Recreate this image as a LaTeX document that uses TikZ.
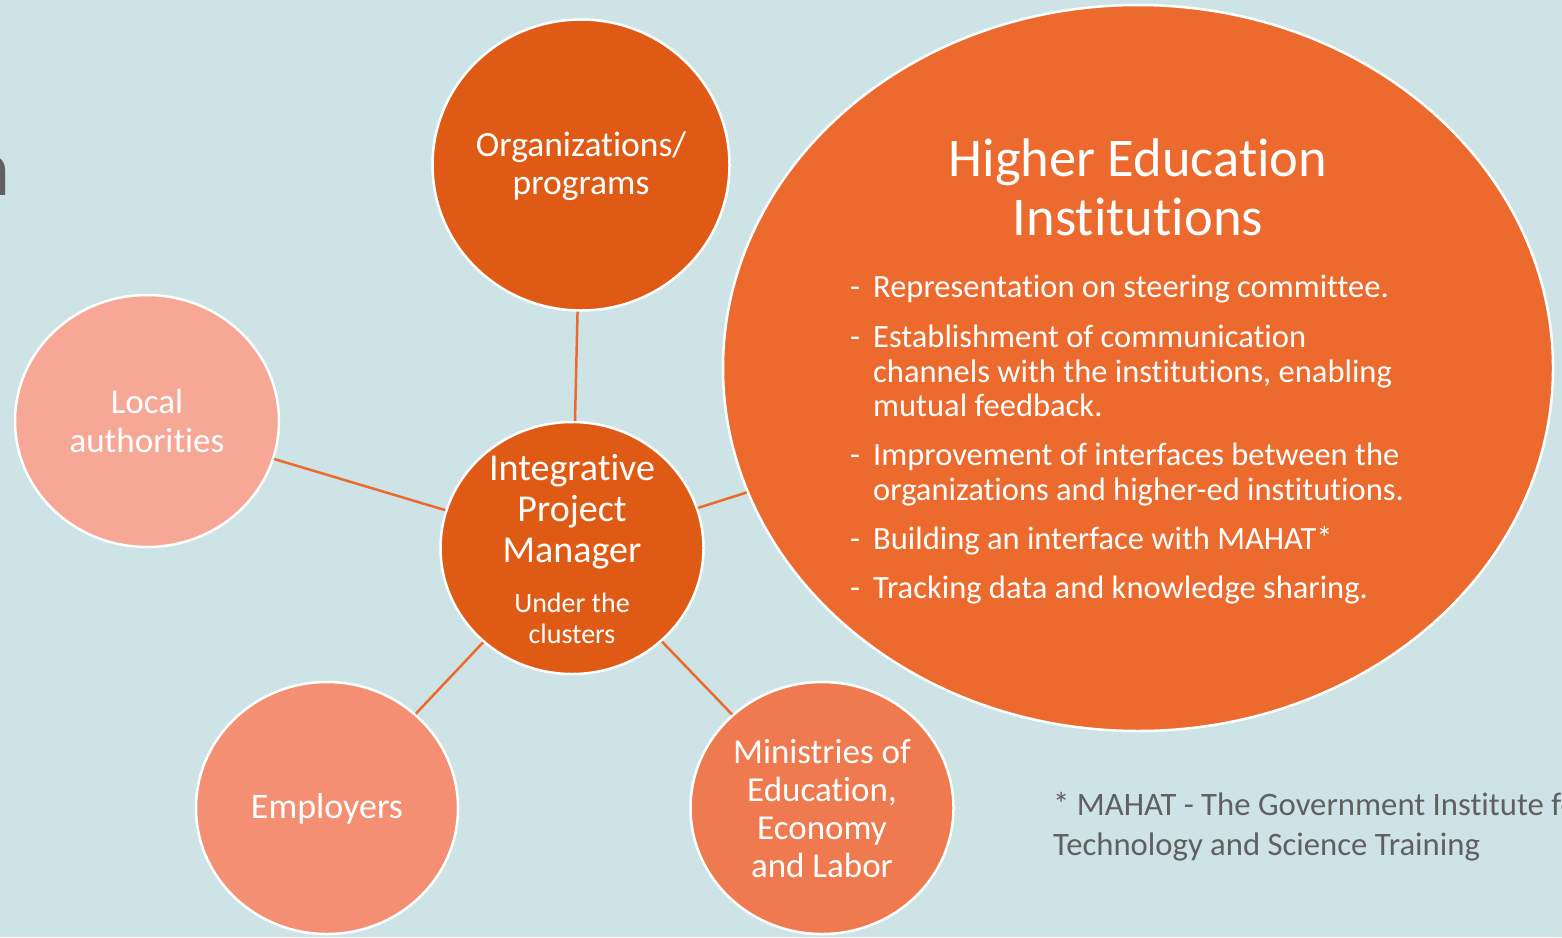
\documentclass[tikz,border=0pt]{standalone}
\usepackage{fontspec}
\setmainfont{Carlito}[Ligatures=NoCommon]
\usetikzlibrary{shapes.geometric}
\definecolor{bgc}{RGB}{205,227,229}
\definecolor{darkor}{RGB}{223,91,21}
\definecolor{heior}{RGB}{236,106,45}
\definecolor{localc}{RGB}{247,167,150}
\definecolor{emplc}{RGB}{244,143,115}
\definecolor{minc}{RGB}{239,122,79}
\definecolor{linec}{RGB}{236,106,45}
\definecolor{grayt}{RGB}{96,96,96}
\tikzset{
  bubble/.style={ellipse, draw=white, line width=2.5pt, inner sep=0pt},
  conn/.style={draw=linec, line width=2.5pt},
  wtext/.style={text=white, align=center, inner sep=0pt},
  btext/.style={text=white, inner sep=0pt, anchor=base west, font=\fontsize{32.5}{35}\selectfont},
  bdash/.style={text=white, inner sep=0pt, anchor=base west, font=\fontsize{32.5}{35}\selectfont},
  fntext/.style={text=grayt, inner sep=0pt, anchor=base west, font=\fontsize{32.7}{40}\selectfont},
}
\begin{document}
\begin{tikzpicture}[x=1pt,y=-1pt]
\useasboundingbox (0,0) rectangle (1562,937);
\fill[bgc] (0,0) rectangle (1562,937);
% cut-off title letter
\node[text=grayt, inner sep=0pt, anchor=base east, font=\fontsize{80}{90}\selectfont] (title) at (11,195) {n};
% bubbles
\node[bubble, fill=darkor, minimum width=297pt, minimum height=291pt] (org) at (581,165) {};
\node[bubble, fill=localc, minimum width=264pt, minimum height=252pt] (loc) at (147,421) {};
\node[bubble, fill=emplc, minimum width=262pt, minimum height=252pt] (emp) at (327,808) {};
\node[bubble, fill=minc, minimum width=263pt, minimum height=252pt] (min) at (822,808) {};
\node[bubble, fill=heior, minimum width=830pt, minimum height=726pt] (hei) at (1138,368) {};
\node[bubble, fill=darkor, minimum width=263pt, minimum height=252pt] (ipm) at (572,548) {};
% connectors
\draw[conn] (org) -- (ipm);
\draw[conn] (loc) -- (ipm);
\draw[conn] (ipm) -- (hei);
\draw[conn] (ipm) -- (emp);
\draw[conn] (ipm) -- (min);
% texts
\node[wtext, font=\fontsize{35.5}{38}\selectfont] (orgt) at (581,166) {Organizations/\\programs};
\node[wtext, font=\fontsize{35}{39}\selectfont] (loct) at (147,421) {Local\\authorities};
\node[wtext, font=\fontsize{36}{38}\selectfont] (empt) at (327,809) {Employers};
\node[wtext, font=\fontsize{35}{38}\selectfont] (mint) at (822,809) {Ministries of\\Education,\\Economy\\and Labor};
\node[wtext, font=\fontsize{38}{41}\selectfont] (ipmt) at (572,512) {Integrative\\Project\\Manager};
\node[wtext, font=\fontsize{28}{31}\selectfont] (ipms) at (572,618) {Under the\\clusters};
\node[wtext, font=\fontsize{54.5}{59}\selectfont] (heit) at (1138,187) {Higher Education\\Institutions};
% bullets
\node[bdash] (d1) at (850,297) {-};
\node[btext] (b1) at (873,297) {Representation on steering committee.};
\node[bdash] (d2) at (850,347) {-};
\node[btext] (b2a) at (873,347) {Establishment of communication};
\node[btext] (b2b) at (873,382) {channels with the institutions, enabling};
\node[btext] (b2c) at (873,416) {mutual feedback.};
\node[bdash] (d3) at (850,465) {-};
\node[btext] (b3a) at (873,465) {Improvement of interfaces between the};
\node[btext] (b3b) at (873,500) {organizations and higher-ed institutions.};
\node[bdash] (d4) at (850,549) {-};
\node[btext] (b4) at (873,549) {Building an interface with MAHAT*};
\node[bdash] (d5) at (850,598) {-};
\node[btext] (b5) at (873,598) {Tracking data and knowledge sharing.};
% footnote
\node[fntext] (fn1) at (1053,815) {* MAHAT - The Government Institute for};
\node[fntext] (fn2) at (1053,855) {Technology and Science Training};
\end{tikzpicture}
\end{document}
